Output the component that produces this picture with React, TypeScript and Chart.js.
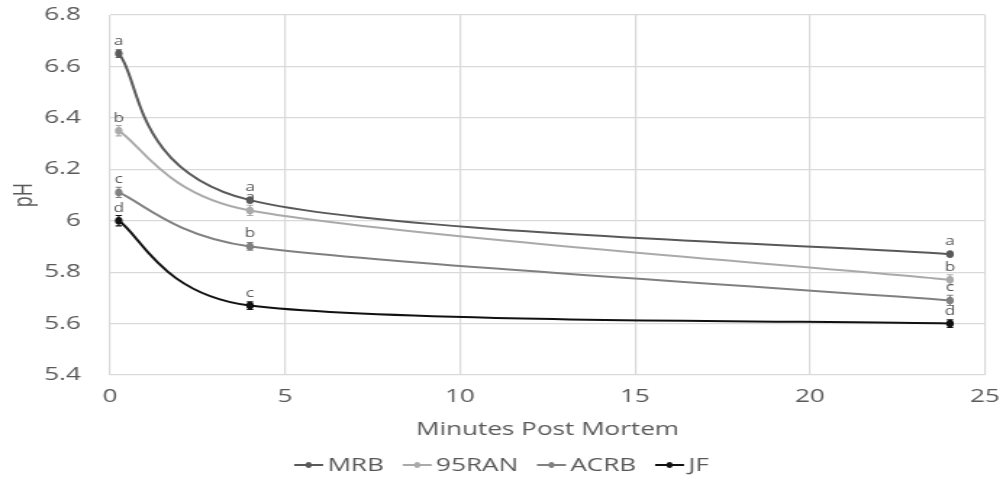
import React, { useEffect, useRef } from "react";
import { Chart, registerables } from "chart.js";

Chart.register(...registerables);

const xValues = [0.25, 4, 24];
const seriesNames = ["MRB", "95RAN", "ACRB", "JF"];
const mrbValues = [6.65, 6.08, 5.87];
const ranValues = [6.35, 6.04, 5.77];
const acrbValues = [6.11, 5.9, 5.69];
const jfValues = [6.0, 5.67, 5.6];
const mrbErrors = [0.015, 0.006, 0.005];
const ranErrors = [0.02, 0.02, 0.02];
const acrbErrors = [0.02, 0.015, 0.02];
const jfErrors = [0.02, 0.015, 0.015];
const mrbLetters = ["a", "a", "a"];
const ranLetters = ["b", "a", "b"];
const acrbLetters = ["c", "b", "c"];
const jfLetters = ["d", "c", "d"];
const seriesColors = ["#595959", "#aaaaaa", "#808080", "#111111"];
const xTicks = [0, 5, 10, 15, 20, 25];
const yTicks = [5.4, 5.6, 5.8, 6.0, 6.2, 6.4, 6.6, 6.8];

const allValues = [mrbValues, ranValues, acrbValues, jfValues];
const allErrors = [mrbErrors, ranErrors, acrbErrors, jfErrors];
const allLetters = [mrbLetters, ranLetters, acrbLetters, jfLetters];

const W = 1003;
const H = 479;
const STRETCH = 1.45;
const CW = Math.round(W / STRETCH);
const SX = W / CW;

const FONT = "'Open Sans', 'DejaVu Sans', sans-serif";
const TEXT = "#595959";

function pts(chart: any, ds: any) {
  const xs = chart.scales.x;
  const ys = chart.scales.y;
  return ds.data.map((p: any) => ({ x: xs.getPixelForValue(p.x), y: ys.getPixelForValue(p.y) }));
}

// Bezier smoothing in the style of spreadsheet "smoothed lines":
// arm = (next - prev) / 6, limited to half of the segment length.
function arm(a: any, b: any, segLen: number) {
  let vx = (b.x - a.x) / 6;
  let vy = (b.y - a.y) / 6;
  const len = Math.hypot(vx, vy);
  const lim = segLen / 2;
  if (len > lim && len > 0) {
    vx *= lim / len;
    vy *= lim / len;
  }
  return { x: vx, y: vy };
}

const smoothLinePlugin = {
  id: "smoothLines",
  beforeDatasetsDraw(chart: any) {
    const ctx = chart.ctx;
    ctx.save();
    chart.data.datasets.forEach((ds: any) => {
      const P = pts(chart, ds);
      const n = P.length;
      ctx.strokeStyle = ds.borderColor;
      ctx.lineWidth = 2;
      ctx.lineJoin = "round";
      ctx.beginPath();
      ctx.moveTo(P[0].x, P[0].y);
      for (let i = 0; i < n - 1; i++) {
        const p0 = i > 0 ? P[i - 1] : P[i];
        const p1 = P[i];
        const p2 = P[i + 1];
        const p3 = i + 2 < n ? P[i + 2] : P[i + 1];
        const seg = Math.hypot(p2.x - p1.x, p2.y - p1.y);
        const a1 = arm(p0, p2, seg);
        const a2 = arm(p1, p3, seg);
        ctx.bezierCurveTo(p1.x + a1.x, p1.y + a1.y, p2.x - a2.x, p2.y - a2.y, p2.x, p2.y);
      }
      ctx.stroke();
    });
    ctx.restore();
  },
};

const errorAndLetterPlugin = {
  id: "errorAndLetters",
  afterDatasetsDraw(chart: any) {
    const ctx = chart.ctx;
    const ys = chart.scales.y;
    ctx.save();
    chart.data.datasets.forEach((ds: any, di: number) => {
      const errs = allErrors[di];
      const letters = allLetters[di];
      const P = pts(chart, ds);
      ds.data.forEach((p: any, i: number) => {
        const px = P[i].x;
        const py = P[i].y;
        const top = ys.getPixelForValue(p.y + errs[i]);
        const bot = ys.getPixelForValue(p.y - errs[i]);
        const cap = 3.2 / SX;
        ctx.strokeStyle = ds.borderColor;
        ctx.lineWidth = 1.1;
        ctx.beginPath();
        ctx.moveTo(px, top);
        ctx.lineTo(px, bot);
        ctx.moveTo(px - cap, top);
        ctx.lineTo(px + cap, top);
        ctx.moveTo(px - cap, bot);
        ctx.lineTo(px + cap, bot);
        ctx.stroke();
        ctx.fillStyle = ds.borderColor;
        ctx.beginPath();
        ctx.ellipse(px, py, 3.8 / SX, 3.8, 0, 0, Math.PI * 2);
        ctx.fill();
        ctx.fillStyle = TEXT;
        ctx.font = `12px ${FONT}`;
        ctx.textAlign = "center";
        ctx.textBaseline = "alphabetic";
        ctx.fillText(letters[i], px, py - 9);
      });
    });
    ctx.restore();
  },
};

const legendPlugin = {
  id: "customLegend",
  afterDraw(chart: any) {
    const ctx = chart.ctx;
    ctx.save();
    ctx.font = `18px ${FONT}`;
    ctx.textBaseline = "middle";
    const lineW = 20;
    const textGap = 3;
    const gap = 13;
    const items = chart.data.datasets.map((ds: any) => ({
      label: ds.label,
      color: ds.borderColor,
      w: lineW + textGap + ctx.measureText(ds.label).width,
    }));
    const total = items.reduce((s: number, it: any) => s + it.w, 0) + gap * (items.length - 1);
    let x = (chart.width - total) / 2;
    const y = 465;
    items.forEach((it: any) => {
      ctx.strokeStyle = it.color;
      ctx.lineWidth = 2;
      ctx.beginPath();
      ctx.moveTo(x, y);
      ctx.lineTo(x + lineW, y);
      ctx.stroke();
      ctx.fillStyle = it.color;
      ctx.beginPath();
      ctx.ellipse(x + lineW / 2, y, 3 / SX, 3, 0, 0, Math.PI * 2);
      ctx.fill();
      ctx.fillStyle = TEXT;
      ctx.textAlign = "left";
      ctx.fillText(it.label, x + lineW + textGap, y + 1);
      x += it.w + gap;
    });
    ctx.restore();
  },
};

export default function App() {
  const ref = useRef<HTMLCanvasElement>(null);
  useEffect(() => {
    if (!ref.current) return;
    const plotLeft = 110 / SX;
    const plotRight = 985 / SX;
    const chart = new Chart(ref.current, {
      type: "line",
      data: {
        datasets: seriesNames.map((name, di) => ({
          label: name,
          data: xValues.map((x, i) => ({ x, y: allValues[di][i] })),
          borderColor: seriesColors[di],
          backgroundColor: seriesColors[di],
          showLine: false,
          pointRadius: 0,
          pointHoverRadius: 0,
        })),
      },
      options: {
        animation: false,
        responsive: false,
        maintainAspectRatio: false,
        devicePixelRatio: 1,
        layout: { padding: { top: 15, right: CW - plotRight, bottom: 38, left: 0 } },
        plugins: { legend: { display: false }, tooltip: { enabled: false } },
        scales: {
          x: {
            type: "linear",
            min: 0,
            max: 25,
            afterBuildTicks: (s: any) => {
              s.ticks = xTicks.map((v) => ({ value: v }));
            },
            afterFit: (s: any) => {
              s.height = 66;
              s.paddingLeft = 0;
              s.paddingRight = 0;
            },
            grid: { color: "#d9d9d9", lineWidth: 1.2, drawTicks: false },
            border: { display: false },
            ticks: { color: TEXT, font: { family: FONT, size: 18 }, padding: 11, maxRotation: 0 },
            title: {
              display: true,
              text: "Minutes Post Mortem",
              color: TEXT,
              font: { family: FONT, size: 18 },
              padding: { top: 0, bottom: 0 },
            },
          },
          y: {
            type: "linear",
            min: 5.4,
            max: 6.8,
            afterBuildTicks: (s: any) => {
              s.ticks = yTicks.map((v) => ({ value: v }));
            },
            afterFit: (s: any) => {
              s.width = plotLeft;
              s.paddingTop = 0;
              s.paddingBottom = 0;
            },
            grid: { color: "#d9d9d9", lineWidth: 1.2, drawTicks: false },
            border: { display: false },
            ticks: {
              color: TEXT,
              font: { family: FONT, size: 18 },
              padding: 20,
              callback: (v: any) => String(Math.round(Number(v) * 10) / 10),
            },
            title: {
              display: true,
              text: "pH",
              color: TEXT,
              font: { family: FONT, size: 18 },
              padding: { top: 6, bottom: 0 },
            },
          },
        },
      },
      plugins: [smoothLinePlugin, errorAndLetterPlugin, legendPlugin],
    } as any);
    return () => chart.destroy();
  }, []);
  return (
    <div style={{ position: "fixed", left: 0, top: 0, width: W, height: H, background: "#fff", overflow: "hidden" }}>
      <div style={{ width: CW, height: H, transform: `scaleX(${SX})`, transformOrigin: "0 0" }}>
        <canvas ref={ref} width={CW} height={H} style={{ display: "block", width: CW, height: H }} />
      </div>
    </div>
  );
}
